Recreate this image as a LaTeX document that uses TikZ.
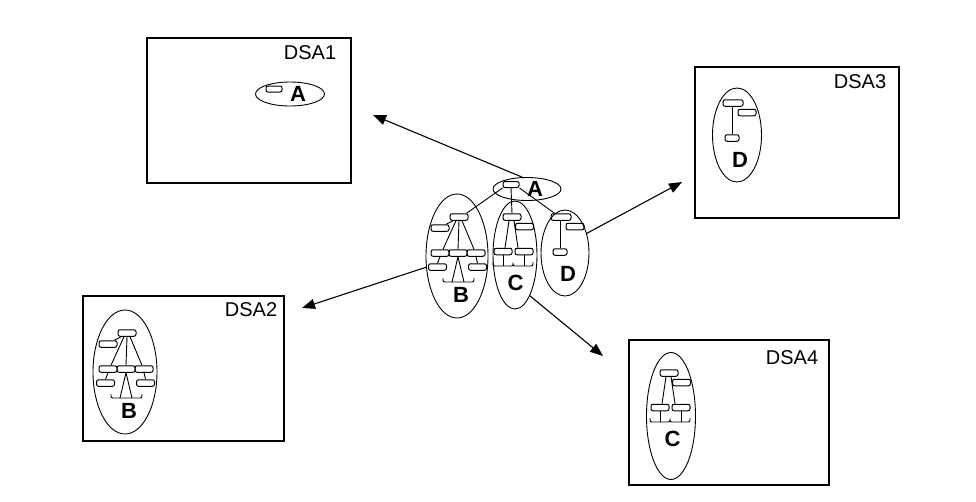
\documentclass[tikz,border=0pt]{standalone}
\usepackage{fontspec}
\setmainfont{Liberation Sans}
\usetikzlibrary{arrows.meta,shapes.geometric}
\tikzset{
 rr/.style={draw, rounded corners=2pt, minimum width=18pt, minimum height=6.5pt, inner sep=0pt, line width=1pt},
 ell/.style={draw, ellipse, inner sep=0pt, line width=0.9pt},
 box/.style={draw, rectangle, inner sep=0pt, line width=1.6pt},
 dsa/.style={inner sep=0pt, font=\fontsize{20}{24}\selectfont},
 lbl/.style={inner sep=0pt, font=\fontsize{22}{26}\selectfont\bfseries},
 conn/.style={line width=0.9pt},
 arr/.style={line width=1.1pt, -{Triangle[length=13pt,width=10pt]}},
 atree/.pic={
  \node[rr, minimum width=16pt, minimum height=6pt] (-r) at (0,0) {};
  \node[lbl] (-lab) at (24,4.5) {A};
 },
 btree/.pic={
  \node[rr] (-t) at (0,0) {};
  \node[rr] (-l) at (-19,11) {};
  \node[rr] (-a) at (-19,36) {};
  \node[rr] (-b) at (-1,36) {};
  \node[rr] (-c) at (17,36) {};
  \node[rr] (-d) at (-21.5,50) {};
  \node[rr] (-e) at (18.5,50) {};
  \coordinate (-m1) at (-7,65);
  \coordinate (-m2) at (5,65);
  \draw[conn] (-16,61) .. controls (-16,65) .. (-12,65) -- (11,65) .. controls (15,65) .. (15,61);
  \draw[conn] ([xshift=-6pt]-t.south) -- ([xshift=6pt]-l.north);
  \draw[conn] ([xshift=-3pt]-t.south) -- ([xshift=3pt]-a.north);
  \draw[conn] (-t.south) -- (-b.north);
  \draw[conn] ([xshift=3pt]-t.south) -- ([xshift=-2pt]-c.north);
  \draw[conn] (-a.south) -- (-d.north);
  \draw[conn] (-c.south) -- (-e.north);
  \draw[conn] (-b.south) -- (-m1);
  \draw[conn] (-b.south) -- (-m2);
  \node[lbl] (-lab) at (2,78) {B};
 },
 ctree/.pic={
  \node[rr] (-t) at (0,0) {};
  \node[rr] (-r) at (12.5,9.5) {};
  \node[rr] (-a) at (-9,34.5) {};
  \node[rr] (-b) at (12,34.5) {};
  \coordinate (-ta) at (-9,49);
  \coordinate (-tb) at (12,49);
  \draw[conn] ([xshift=-3pt]-t.south) -- ([xshift=2pt]-a.north);
  \draw[conn] ([xshift=2pt]-t.south) -- ([xshift=-6pt]-b.north);
  \draw[conn] (-a.south) -- (-ta);
  \draw[conn] (-b.south) -- (-tb);
  \draw[conn] (-19,45) .. controls (-19,49) .. (-15,49) -- (-3,49) .. controls (1,49) .. (1,45.5)
     .. controls (1,49) .. (5,49) -- (17,49) .. controls (21,49) .. (21,45);
  \node[lbl] (-lab) at (3.5,65.5) {C};
 },
 dtree/.pic={
  \node[rr, minimum width=20pt] (-t) at (0,0) {};
  \node[rr] (-r) at (14,9.5) {};
  \node[rr, minimum width=14pt] (-b) at (-1,35) {};
  \draw[conn] (-b.north) -- ([xshift=-1pt]-t.south);
  \node[lbl] (-lab) at (7,57) {D};
 },
}
\begin{document}
\begin{tikzpicture}[x=1pt,y=-1pt]
\useasboundingbox (0,0) rectangle (976,501);
% boxes
\node[box, minimum width=204pt, minimum height=145pt] (dsa1) at (249,110.5) {};
\node[box, minimum width=201pt, minimum height=145pt] (dsa2) at (183.5,368.5) {};
\node[box, minimum width=204pt, minimum height=151pt] (dsa3) at (797,142.5) {};
\node[box, minimum width=200pt, minimum height=145pt] (dsa4) at (729,412.5) {};
\node[dsa] (l1) at (310,52.5) {DSA1};
\node[dsa] (l2) at (251,310) {DSA2};
\node[dsa] (l3) at (860,81.5) {DSA3};
\node[dsa] (l4) at (792,357.5) {DSA4};
% central cluster
\node[ell, minimum width=68pt, minimum height=23pt] (eA) at (527,189) {};
\node[ell, minimum width=62pt, minimum height=124pt] (eB) at (457,256) {};
\node[ell, minimum width=44pt, minimum height=108pt] (eC) at (515,255) {};
\node[ell, minimum width=48pt, minimum height=86pt] (eD) at (565,253) {};
\pic (ca) at (511,184.5) {atree};
\pic (cb) at (459,217) {btree};
\pic (cc) at (512,217) {ctree};
\pic (cd) at (561,217) {dtree};
\draw[conn] (ca-r.south west) -- ([xshift=-2pt]cb-t.north east);
\draw[conn] (ca-r.south) -- (cc-t.north);
\draw[conn] (ca-r.south east) -- ([xshift=4pt]cd-t.north west);
% copies in the DSAs
\node[ell, minimum width=69pt, minimum height=24pt] (e1) at (290,94) {};
\pic (pa) at (274,89) {atree};
\node[ell, minimum width=64pt, minimum height=124pt] (e2) at (125,372) {};
\pic (pb) at (127,333) {btree};
\node[ell, minimum width=49pt, minimum height=94pt] (e3) at (737,135) {};
\pic (pd) at (733,103) {dtree};
\node[ell, minimum width=49pt, minimum height=127pt] (e4) at (671,416) {};
\pic (pc) at (669,373) {ctree};
% arrows
\coordinate (t1) at (373,115);
\coordinate (t2) at (682,182);
\coordinate (t3) at (302,308);
\coordinate (t4) at (603,356);
\draw[arr] (eA.112) -- (t1);
\draw[arr] (eD.42) -- (t2);
\draw[arr] (eB.200) -- (t3);
\draw[arr] (eC.-70) -- (t4);
\end{tikzpicture}
\end{document}
